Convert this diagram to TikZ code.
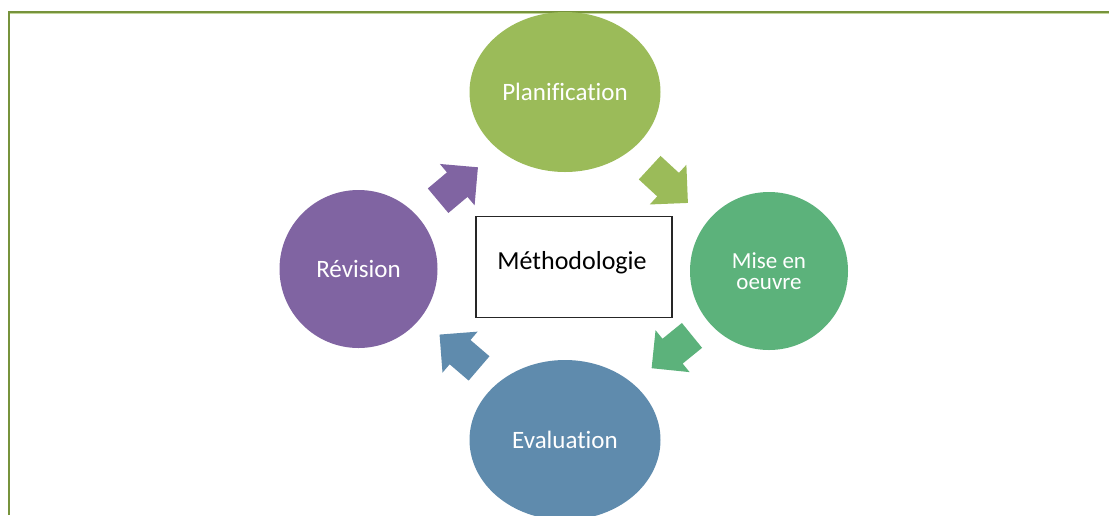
\documentclass[tikz,border=0pt]{standalone}
\usepackage{fontspec}
\setmainfont{Carlito}[Ligatures={NoCommon}]
\usetikzlibrary{shapes.geometric}
\definecolor{framegreen}{HTML}{77933C}
\definecolor{framelight}{HTML}{C3D69B}
\definecolor{cplan}{HTML}{9BBB59}
\definecolor{cmise}{HTML}{5CB27B}
\definecolor{ceval}{HTML}{5F8BAD}
\definecolor{crev}{HTML}{8064A2}
\tikzset{
  stage/.style={ellipse, inner sep=0pt, text=white, font=\fontsize{25}{30}\selectfont},
  centerbox/.style={draw=black!85, line width=1.2pt, fill=white, minimum width=196pt, minimum height=101pt, inner sep=0pt},
  frameline/.style={draw=framegreen, line width=2.4pt}
}
\newcommand{\blockarrow}[4]{%
  \begin{scope}[shift={(#1,#2)}, rotate=#3]
    \fill[#4] (-26,-16) -- (-1,-16) -- (-1,-27) -- (26,0) -- (-1,27) -- (-1,16) -- (-26,16) -- cycle;
  \end{scope}}
\begin{document}
\begin{tikzpicture}[x=1pt,y=1pt]
\useasboundingbox (0,0) rectangle (1109,-515);
\fill[white] (0,0) rectangle (1109,-515);
% frame (only left and top edges visible)
\draw[framelight, line width=1pt] (10,-13.8) -- (1109,-13.8);
\draw[frameline] (9,-515) -- (9,-12) -- (1109,-12);

% stages
\node[stage, fill=cplan, minimum width=191pt, minimum height=160pt] (plan) at (565,-92) {Planification};
\node[stage, fill=cmise, minimum width=158pt, minimum height=158pt, font=\fontsize{23}{21}\selectfont, align=center] (mise) at (769,-271) {Mise en\\oeuvre};
\node[stage, fill=ceval, minimum width=191pt, minimum height=160pt] (eval) at (565,-440) {Evaluation};
\node[stage, fill=crev, minimum width=158pt, minimum height=158pt] (rev) at (358.5,-269) {Révision};

% centre box
\node[centerbox] (meth) at (574,-267) {};
\node[anchor=base, inner sep=0pt, font=\fontsize{26}{30}\selectfont] (methlabel) at (572,-269) {Méthodologie};

% cycle arrows
\blockarrow{458}{-184}{40}{crev}
\blockarrow{668.8}{-185.3}{-42.7}{cplan}
\blockarrow{671.8}{-351.8}{-140.9}{cmise}
\blockarrow{459.3}{-351.5}{139.4}{ceval}
\end{tikzpicture}
\end{document}
